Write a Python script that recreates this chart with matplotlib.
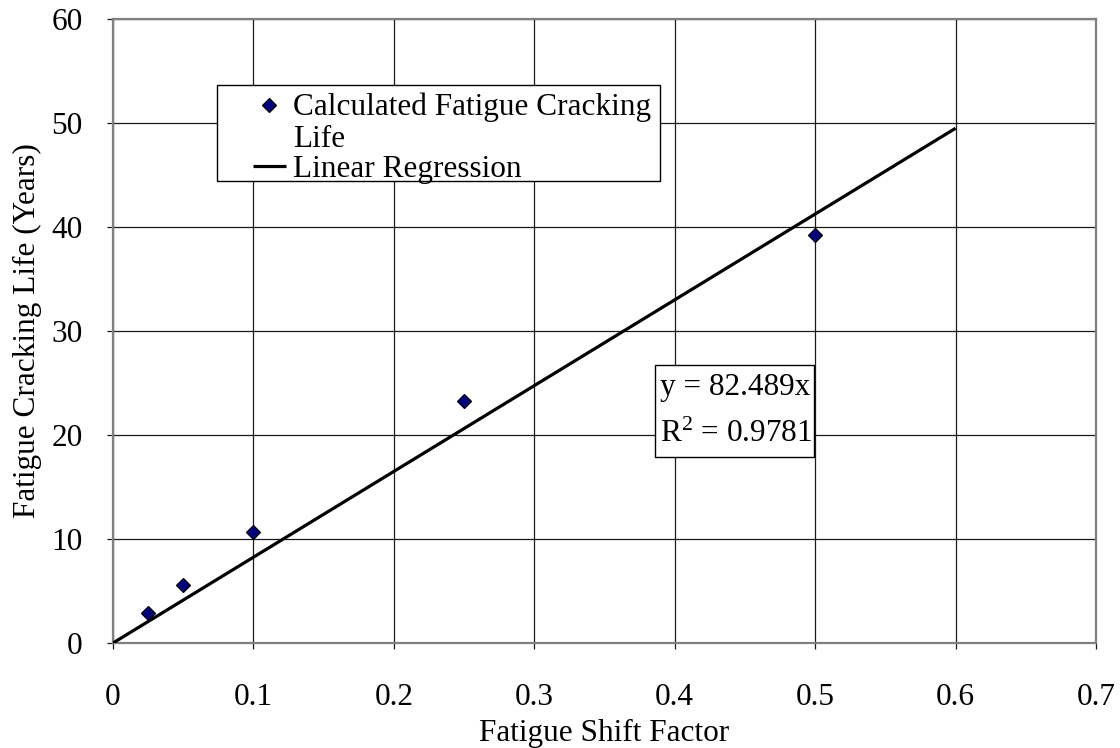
import matplotlib
matplotlib.use("Agg")
import matplotlib.pyplot as plt
from matplotlib.patches import Rectangle
from matplotlib.lines import Line2D

# Calculated fatigue cracking life for each fatigue shift factor
shift_factor = [0.025, 0.05, 0.1, 0.25, 0.5]
cracking_life = [2.9, 5.6, 10.7, 23.3, 39.2]

# Linear regression through the origin
slope = 82.489
r_squared = 0.9781
fit_x = [0.0, 0.6]

x_ticks = [0, 0.1, 0.2, 0.3, 0.4, 0.5, 0.6, 0.7]
x_tick_labels = ["0", "0.1", "0.2", "0.3", "0.4", "0.5", "0.6", "0.7"]
y_ticks = [0, 10, 20, 30, 40, 50, 60]

plt.rcParams["font.family"] = ["Liberation Serif", "DejaVu Serif"]
plt.rcParams["mathtext.fontset"] = "custom"
plt.rcParams["mathtext.rm"] = "Liberation Serif"
plt.rcParams["mathtext.it"] = "Liberation Serif:italic"
FS = 22.5

W, H = 1120, 748
fig = plt.figure(figsize=(W / 100, H / 100), dpi=100)
L, R, T, B = 113, 1096, 19, 643
ax = fig.add_axes([L / W, 1 - B / H, (R - L) / W, (B - T) / H])

ax.set_xlim(0, 0.7)
ax.set_ylim(0, 60)
ax.set_xticks(x_ticks)
ax.set_xticklabels(x_tick_labels)
ax.set_yticks(y_ticks)
ax.grid(True, color="#1a1a1a", linewidth=0.9)
ax.set_axisbelow(True)
for sp in ax.spines.values():
    sp.set_color("#808080")
    sp.set_linewidth(1.6)
ax.tick_params(axis="both", direction="out", length=4, width=0.9,
               color="#1a1a1a", labelsize=FS)
ax.tick_params(axis="x", pad=25)
ax.tick_params(axis="y", pad=18)

fit_y = [slope * v for v in fit_x]
ax.plot(fit_x, fit_y, color="black", linewidth=2.3, solid_capstyle="butt", zorder=3)
ax.plot(shift_factor, cracking_life, linestyle="none", marker="D", markersize=7,
        markerfacecolor="#000080", markeredgecolor="black", markeredgewidth=0.9,
        zorder=4, clip_on=False)

ax.set_xlabel("Fatigue Shift Factor", fontsize=FS)
ax.set_ylabel("Fatigue Cracking Life (Years)", fontsize=FS)
ax.xaxis.set_label_coords(0.5, (B - 733) / (B - T))
ax.xaxis.label.set_va("center")
ax.yaxis.set_label_coords((27 - L) / (R - L), 0.5)
ax.yaxis.label.set_va("center")


def af(px, py):
    """Pixel position in the figure -> axes fraction."""
    return (px - L) / (R - L), (B - py) / (B - T)


# Legend box
x0, y0 = af(217, 181)
x1, y1 = af(660, 85)
ax.add_patch(Rectangle((x0, y0), x1 - x0, y1 - y0, transform=ax.transAxes,
                       facecolor="white", edgecolor="black", linewidth=1.0,
                       zorder=5, clip_on=False))
mx, my = af(269, 105)
ax.add_line(Line2D([mx], [my], transform=ax.transAxes, marker="D", markersize=7,
                   markerfacecolor="#000080", markeredgecolor="black",
                   markeredgewidth=0.9, zorder=6))
tx, ty = af(293, 115)
ax.text(tx, ty, "Calculated Fatigue Cracking", transform=ax.transAxes,
        fontsize=FS, va="baseline", ha="left", zorder=6)
tx, ty = af(293, 147)
ax.text(tx, ty, "Life", transform=ax.transAxes,
        fontsize=FS, va="baseline", ha="left", zorder=6)
lx0, ly = af(253, 166)
lx1, _ = af(286, 166)
ax.add_line(Line2D([lx0, lx1], [ly, ly], transform=ax.transAxes, color="black",
                   linewidth=2.3, solid_capstyle="butt", zorder=6))
tx, ty = af(293, 177)
ax.text(tx, ty, "Linear Regression", transform=ax.transAxes,
        fontsize=FS, va="baseline", ha="left", zorder=6)

# Regression equation box
x0, y0 = af(655, 457)
x1, y1 = af(814, 365)
ax.add_patch(Rectangle((x0, y0), x1 - x0, y1 - y0, transform=ax.transAxes,
                       facecolor="white", edgecolor="black", linewidth=1.0,
                       zorder=5, clip_on=False))
tx, ty = af(660, 395)
ax.text(tx, ty, f"y = {slope:.3f}x", transform=ax.transAxes,
        fontsize=FS, va="baseline", ha="left", zorder=6)
tx, ty = af(660, 442)
ax.text(tx, ty, f"R$^{{2}}$ = {r_squared:.4f}", transform=ax.transAxes,
        fontsize=FS, va="baseline", ha="left", zorder=6)

fig.savefig("out.png", dpi=100, facecolor="white")
